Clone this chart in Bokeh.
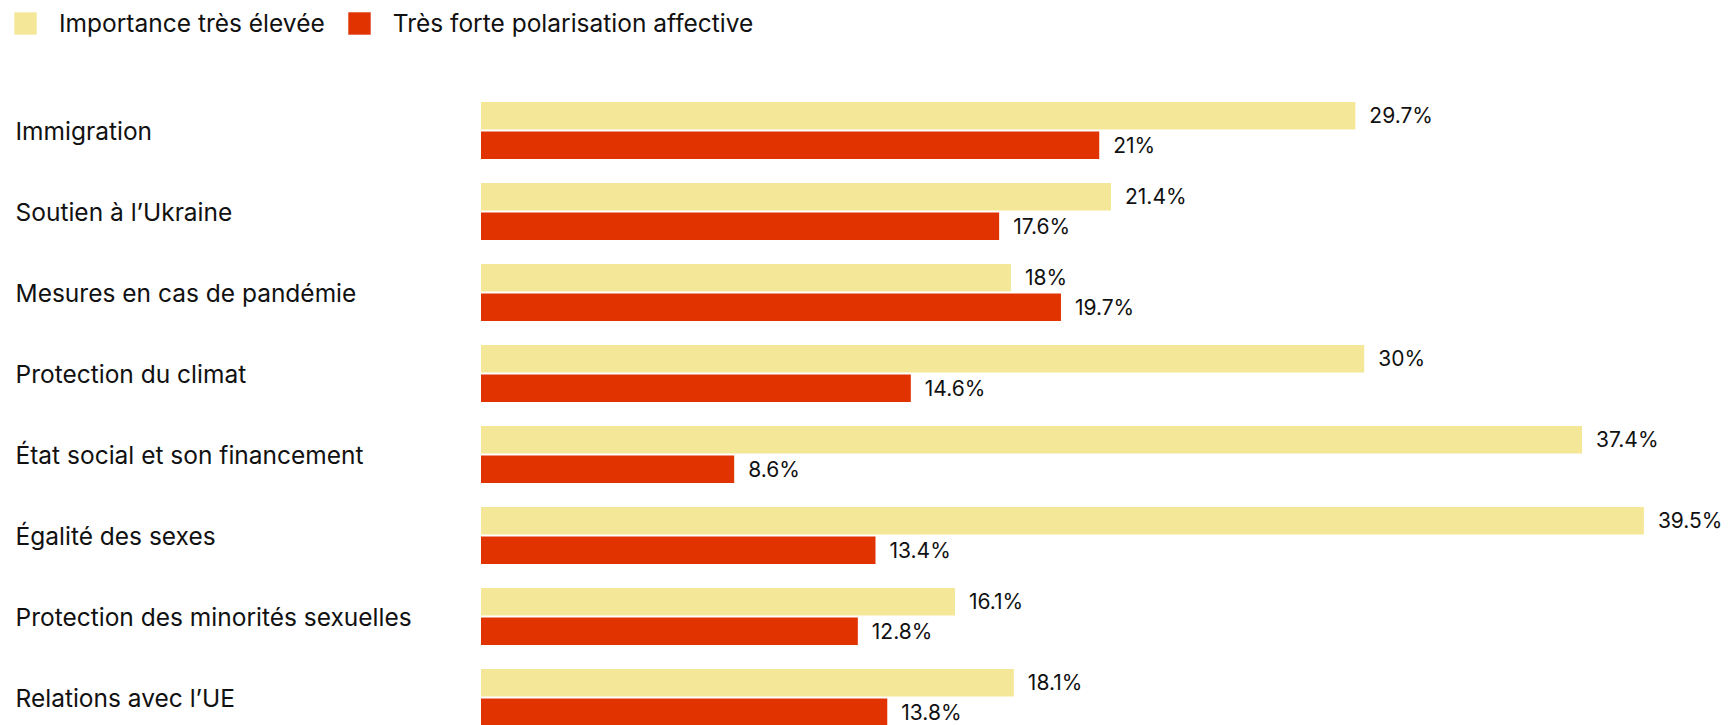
from bokeh.plotting import figure
from bokeh.models import Range1d, ColumnDataSource, LabelSet, Legend, LegendItem
from bokeh.core.properties import value
from bokeh.embed import file_html
from bokeh.resources import INLINE

categories = ["Immigration", "Soutien à l’Ukraine", "Mesures en cas de pandémie",
              "Protection du climat", "État social et son financement",
              "Égalité des sexes", "Protection des minorités sexuelles",
              "Relations avec l’UE"]
importance = [29.7, 21.4, 18, 30, 37.4, 39.5, 16.1, 18.1]
polarisation = [21, 17.6, 19.7, 14.6, 8.6, 13.4, 12.8, 13.8]
series_names = ["Importance très élevée", "Très forte polarisation affective"]
colors = ["#F5E798", "#E13300"]

FONT = "Inter"
W, H = 1728, 725
px_per_pct = 29.44
x0_px = 480.5
pitch = 81.0
g0 = 130.0

p = figure(width=W, height=H, output_backend="svg", toolbar_location=None,
           x_range=Range1d(-x0_px / px_per_pct, (W - x0_px) / px_per_pct),
           y_range=Range1d((H - g0) / pitch, -g0 / pitch),
           min_border=0, min_border_left=0, min_border_right=0,
           min_border_top=0, min_border_bottom=0)
p.axis.visible = False
p.grid.visible = False
p.outline_line_color = None
p.background_fill_color = "white"
p.border_fill_color = "white"

bh = 27.6 / pitch
off = (1.0 + 27.6 / 2) / pitch
idx = list(range(len(categories)))

src_a = ColumnDataSource(dict(y=[i - off for i in idx], v=importance,
                              lab=[f"{v:g}%" for v in importance]))
src_b = ColumnDataSource(dict(y=[i + off for i in idx], v=polarisation,
                              lab=[f"{v:g}%" for v in polarisation]))
r_a = p.hbar(y="y", right="v", left=0, height=bh, source=src_a,
             fill_color=colors[0], line_color=None)
r_b = p.hbar(y="y", right="v", left=0, height=bh, source=src_b,
             fill_color=colors[1], line_color=None)

for s in (src_a, src_b):
    p.add_layout(LabelSet(x="v", y="y", text="lab", source=s, x_offset=14,
                          text_baseline="middle", text_align="left",
                          text_font=value(FONT), text_font_size="21px",
                          text_color="#111111"))

src_c = ColumnDataSource(dict(y=idx, name=categories, x=[15] * len(idx)))
p.add_layout(LabelSet(x="x", y="y", x_units="screen", text="name", source=src_c,
                      text_baseline="middle", text_align="left",
                      text_font=value(FONT), text_font_size="24.5px",
                      text_color="#111111"))

legend = Legend(items=[LegendItem(label=series_names[0], renderers=[r_a]),
                       LegendItem(label=series_names[1], renderers=[r_b])],
                orientation="horizontal", location=(11, H - 38),
                glyph_width=28, glyph_height=28, label_standoff=20, spacing=20,
                padding=0, margin=0, border_line_alpha=0, background_fill_alpha=0,
                label_text_font=FONT, label_text_font_size="24.5px",
                label_text_color="#111111", label_height=28)
p.add_layout(legend)

open("out.html", "w").write(file_html(p, INLINE))
